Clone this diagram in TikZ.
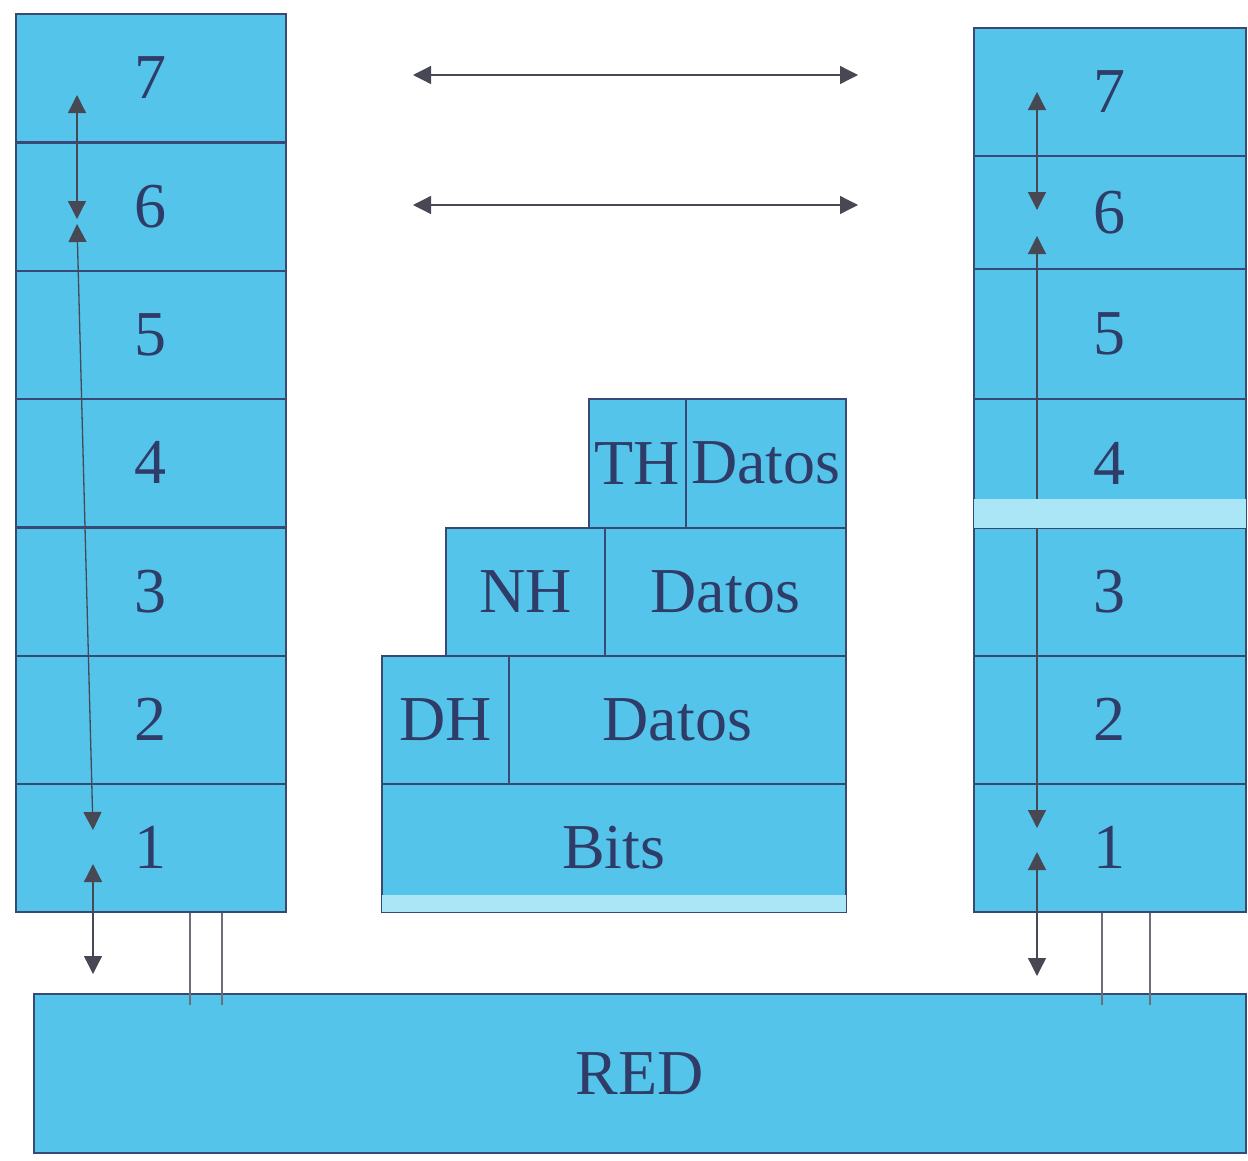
\documentclass[tikz,border=0pt]{standalone}
\usepackage{fontspec}
\setmainfont{Liberation Serif}
\usetikzlibrary{arrows.meta}
\definecolor{capaazul}{RGB}{84,196,234}
\definecolor{capaclara}{RGB}{170,230,246}
\definecolor{borde}{RGB}{58,72,118}
\definecolor{letra}{RGB}{48,60,104}
\definecolor{flechagris}{RGB}{72,72,84}
\begin{document}
\begin{tikzpicture}[x=1pt,y=-1pt,
  capa/.style={draw=borde, line width=1.6pt, fill=capaazul, anchor=north west, inner sep=0pt,
    text=letra, font=\fontsize{64}{70}\selectfont},
  flecha/.style={draw=flechagris, line width=1.3pt,
    {Triangle[length=18pt,width=18pt]}-{Triangle[length=18pt,width=18pt]}},
  cable/.style={draw=flechagris!80, line width=1.2pt}]
\useasboundingbox (0,0) rectangle (1248,1160);
% pila izquierda y derecha
\foreach \n/\yy in {7/13,6/142,5/270,4/398,3/527,2/655,1/783}
  \node[capa, minimum width=270pt, minimum height=128pt] (l\n) at (15,\yy) {\n};
\foreach \n/\yy/\hh in {7/27/128,6/155/113,5/268/130,4/398/129,3/527/128,2/655/128,1/783/128}
  \node[capa, minimum width=272pt, minimum height=\hh pt] (r\n) at (973,\yy) {\n};
% encapsulado
\node[capa, minimum width=97pt, minimum height=129pt] (th) at (588,398) {TH};
\node[capa, minimum width=160pt, minimum height=129pt] (thd) at (685,398) {Datos};
\node[capa, minimum width=159pt, minimum height=128pt] (nh) at (445,527) {NH};
\node[capa, minimum width=241pt, minimum height=128pt] (nhd) at (604,527) {Datos};
\node[capa, minimum width=127pt, minimum height=128pt] (dh) at (381,655) {DH};
\node[capa, minimum width=337pt, minimum height=128pt] (dhd) at (508,655) {Datos};
\node[capa, minimum width=464pt, minimum height=128pt] (bits) at (381,783) {Bits};
\fill[capaclara] ([xshift=1pt,yshift=1pt]bits.south west) rectangle ([xshift=-1pt,yshift=18pt]bits.south east);
\node[capa, minimum width=1212pt, minimum height=159pt] (red) at (33,993) {RED};
% flechas entre pares
\coordinate (a1) at (413,75);  \coordinate (b1) at (858,75);
\coordinate (a2) at (413,205); \coordinate (b2) at (858,205);
\draw[flecha] (a1) -- (b1);
\draw[flecha] (a2) -- (b2);
% recorrido vertical izquierdo
\coordinate (li1) at (77,95);  \coordinate (li2) at (77,219);
\coordinate (li3) at (77,224); \coordinate (li4) at (93,830);
\coordinate (li5) at (93,864); \coordinate (li6) at (93,974);
\draw[flecha] (li1) -- (li2);
\draw[flecha] (li3) -- (li4);
\draw[flecha] (li5) -- (li6);
% recorrido vertical derecho
\coordinate (ri1) at (1037,92);  \coordinate (ri2) at (1037,210);
\coordinate (ri3) at (1037,236); \coordinate (ri4) at (1037,828);
\coordinate (ri5) at (1037,852); \coordinate (ri6) at (1037,976);
\draw[flecha] (ri1) -- (ri2);
\draw[flecha] (ri3) -- (ri4);
\draw[flecha] (ri5) -- (ri6);
\fill[capaclara] ([xshift=1pt,yshift=1pt]r4.south west) rectangle ([xshift=-1pt,yshift=30pt]r4.south east);
% conexiones a la red
\foreach \xx in {190,222}
  \draw[cable] (l1.south -| \xx,0) -- ([yshift=-12pt]red.north -| \xx,0);
\foreach \xx in {1102,1150}
  \draw[cable] (r1.south -| \xx,0) -- ([yshift=-12pt]red.north -| \xx,0);
\end{tikzpicture}
\end{document}
